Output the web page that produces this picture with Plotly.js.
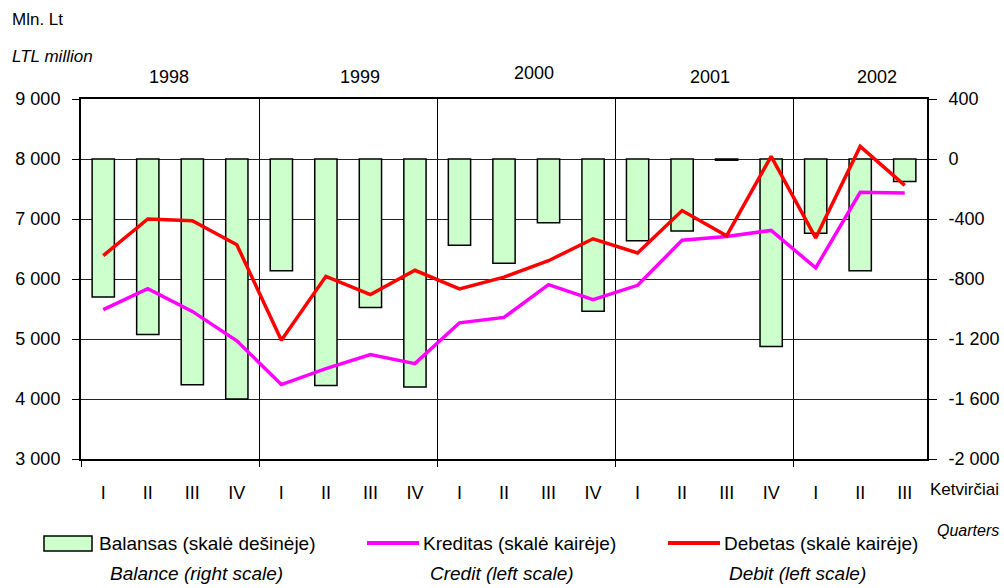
<!DOCTYPE html>
<html>
<head>
<meta charset="utf-8">
<script src="https://cdn.plot.ly/plotly-3.0.1.min.js"></script>
<style>
html,body{margin:0;padding:0;background:#fff;}
#chart{width:1004px;height:588px;}
</style>
</head>
<body>
<div id="chart"></div>
<script>
// ---- data ----
var quarters = ['I','II','III','IV','I','II','III','IV','I','II','III','IV','I','II','III','IV','I','II','III'];
var years = ['1998','1999','2000','2001','2002'];
var quartersPerYear = [4,4,4,4,3];
var balance = [-920,-1170,-1505,-1600,-745,-1510,-990,-1520,-575,-695,-425,-1015,-545,-480,-8,-1250,-495,-745,-150];
var credit  = [5490,5840,5460,4970,4240,4505,4740,4590,5270,5360,5905,5655,5895,6645,6710,6810,6185,7445,7435];
var debit   = [6390,7000,6970,6570,4980,6045,5740,6145,5835,6030,6305,6670,6435,7140,6720,8045,6685,8210,7560];
var leftTickVals  = [3000,4000,5000,6000,7000,8000,9000];
var leftTickText  = ['3 000','4 000','5 000','6 000','7 000','8 000','9 000'];
var rightTickVals = [-2000,-1600,-1200,-800,-400,0,400];
var rightTickText = ['-2 000','-1 600','-1 200','-800','-400','0','400'];
var seriesNames = ['Balansas (skalė dešinėje)','Kreditas (skalė kairėje)','Debetas (skalė kairėje)'];
var seriesNamesEn = ['Balance (right scale)','Credit (left scale)','Debit (left scale)'];

// ---- derived ----
var xIdx = quarters.map(function(_, i){ return i; });
var yearBounds = [-0.5];
var acc = 0;
quartersPerYear.forEach(function(n){
  acc += n;
  if (acc < quarters.length) yearBounds.push(acc - 0.5);
});

// pixel helpers for non-data text (plot area 81..927 x 99..459)
var L = 81, R = 927, T = 99, B = 459;
function px(x){ return (x - L) / (R - L); }
function py(y){ return (B - y) / (B - T); }

var FONT = 'Liberation Sans, Arial, sans-serif';
var colors = {bar:'#CCFFCC', credit:'#FF00FF', debit:'#FF0000'};

var traces = [
  {type:'bar', x:xIdx, y:balance, yaxis:'y', xaxis:'x', name:seriesNames[0],
   marker:{color:colors.bar, line:{color:'#000', width:1.5}}, hoverinfo:'y'},
  {type:'scatter', mode:'lines', x:xIdx, y:credit, yaxis:'y2', xaxis:'x', name:seriesNames[1],
   line:{color:colors.credit, width:3.5}},
  {type:'scatter', mode:'lines', x:xIdx, y:debit, yaxis:'y2', xaxis:'x', name:seriesNames[2],
   line:{color:colors.debit, width:3.5}}
];

var ann = [];
function txt(x, y, t, opts){
  var a = {xref:'paper', yref:'paper', x:px(x), y:py(y), text:t, showarrow:false,
           xanchor:'left', yanchor:'middle', font:{family:FONT, size:18, color:'#000'}};
  for (var k in (opts||{})) a[k] = opts[k];
  ann.push(a);
}
// axis title
txt(10, 20, 'Mln. Lt', {font:{family:FONT, size:17, color:'#000'}});
txt(10, 57, '<i>LTL million</i>', {font:{family:FONT, size:17, color:'#000'}});
// year labels
var yearPx = [169, 360, 534, 710, 877];
var yearPy = [77, 77, 73, 77, 77];
years.forEach(function(y, i){
  txt(yearPx[i], yearPy[i], y, {xanchor:'center'});
});
// quarters caption
txt(928, 490, 'Ketvirčiai', {font:{family:FONT, size:17, color:'#000'}});
txt(1001, 530, '<i>Quarters</i>', {xanchor:'right', font:{family:FONT, size:16, color:'#000'}});
// legend texts
var legTextX = [97, 421, 722];
var legText2X = [108, 428, 727];
seriesNames.forEach(function(n, i){
  txt(legTextX[i], 543, n, {font:{family:FONT, size:19, color:'#000'}});
  txt(legText2X[i], 573, '<i>' + seriesNamesEn[i] + '</i>', {font:{family:FONT, size:19, color:'#000'}});
});

var shapes = [
  {type:'rect', xref:'paper', yref:'paper', x0:px(44), x1:px(92), y0:py(536), y1:py(551),
   fillcolor:colors.bar, line:{color:'#000', width:1.5}},
  {type:'line', xref:'paper', yref:'paper', x0:px(367), x1:px(419), y0:py(543), y1:py(543),
   line:{color:colors.credit, width:4}},
  {type:'line', xref:'paper', yref:'paper', x0:px(668), x1:px(720), y0:py(543), y1:py(543),
   line:{color:colors.debit, width:4}}
];

var layout = {
  width:1004, height:588,
  margin:{l:L, r:1004-R, t:T, b:588-B, pad:0},
  paper_bgcolor:'#fff', plot_bgcolor:'#fff',
  showlegend:false,
  bargap:0.5,
  font:{family:FONT, size:18, color:'#000'},
  xaxis:{type:'linear', range:[-0.5, quarters.length-0.5], anchor:'y',
         tickmode:'array', tickvals:xIdx, ticktext:quarters, ticks:'',
         ticklabelstandoff:16,
         showgrid:false, zeroline:false,
         showline:true, mirror:true, linecolor:'#000', linewidth:2,
         tickfont:{family:FONT, size:18, color:'#000'},
         minor:{tickmode:'array', tickvals:yearBounds, ticks:'outside', ticklen:6,
                tickcolor:'#000', tickwidth:1, showgrid:true, gridcolor:'#000', gridwidth:1}},
  yaxis:{range:[-2000, 400], side:'right', tickmode:'array', tickvals:rightTickVals, ticktext:rightTickText,
         ticks:'outside', ticklen:8, tickcolor:'#000', tickwidth:1, ticklabelstandoff:8,
         showgrid:true, gridcolor:'#222', gridwidth:1, zeroline:false,
         showline:true, mirror:true, linecolor:'#000', linewidth:2,
         tickfont:{family:FONT, size:18, color:'#000'}},
  yaxis2:{range:[3000, 9000], overlaying:'y', side:'left', anchor:'x',
          tickmode:'array', tickvals:leftTickVals, ticktext:leftTickText,
          ticks:'outside', ticklen:8, tickcolor:'#000', tickwidth:1, ticklabelstandoff:8,
          showgrid:false, zeroline:false, showline:false,
          tickfont:{family:FONT, size:18, color:'#000'}},
  annotations:ann,
  shapes:shapes
};

Plotly.newPlot('chart', traces, layout, {displayModeBar:false, staticPlot:true});
</script>
</body>
</html>
